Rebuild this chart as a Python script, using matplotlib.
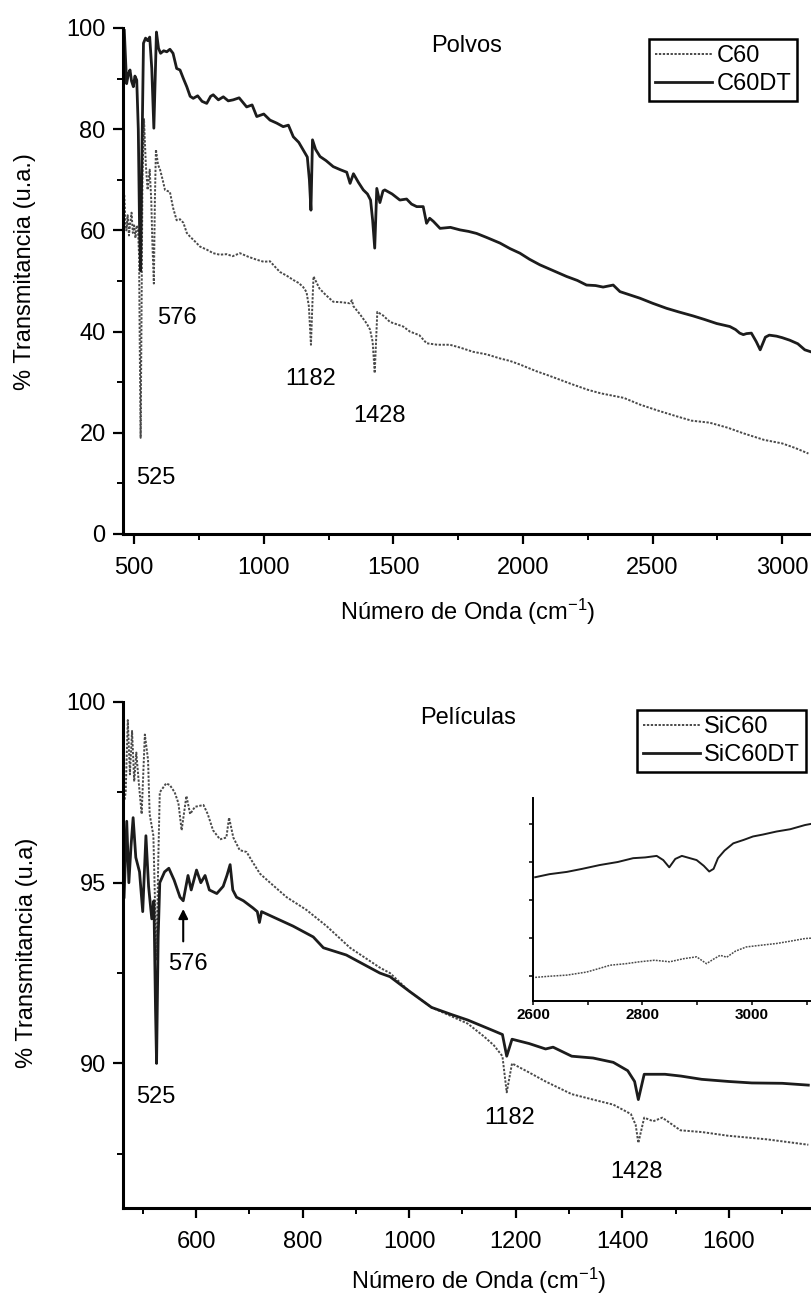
import numpy as np
import matplotlib.pyplot as plt
from matplotlib.ticker import MultipleLocator

plt.rcParams['font.family'] = ['Liberation Sans', 'DejaVu Sans']
plt.rcParams['mathtext.fontset'] = 'custom'
plt.rcParams['mathtext.rm'] = 'Liberation Sans'
plt.rcParams['mathtext.it'] = 'Liberation Sans:italic'

# ---- Polvos (powders) ----
c60dt_x = [462, 466, 471, 478, 484, 490, 497, 503, 510, 516, 521, 525, 530, 536, 544, 552, 560, 568,
           576, 580, 586, 594, 602, 614, 626, 638, 650, 664, 677, 690, 703, 716, 728, 745, 762, 780,
           795, 805, 825, 844, 863, 882, 905, 934, 955, 973, 1000, 1024, 1050, 1075, 1095, 1114, 1135,
           1152, 1168, 1176, 1182, 1188, 1200, 1217, 1240, 1268, 1295, 1320, 1333, 1346, 1365, 1384,
           1400, 1412, 1420, 1428, 1436, 1448, 1460, 1467, 1495, 1525, 1551, 1570, 1590, 1615, 1628,
           1640, 1654, 1680, 1720, 1757, 1790, 1821, 1860, 1911, 1950, 1988, 2025, 2065, 2110, 2168,
           2210, 2245, 2280, 2309, 2348, 2374, 2410, 2451, 2500, 2554, 2600, 2656, 2700, 2747, 2798,
           2820, 2836, 2850, 2862, 2881, 2900, 2915, 2935, 2950, 2978, 3000, 3029, 3060, 3087, 3111]
c60dt_y = [99.5, 95, 89, 91, 91.7, 89.5, 88.4, 90.5, 89.7, 80, 60, 52, 75, 97, 98, 97.5, 98.2, 92,
           80.2, 88, 99.2, 96, 95, 95.5, 95.3, 95.8, 95, 92, 91.7, 90, 88.4, 86.5, 86.1, 86.6, 85.5, 85.1,
           86.5, 86.8, 85.8, 86.4, 85.6, 85.8, 86.2, 84.4, 84.8, 82.5, 83, 81.8, 81.2, 80.5, 80.8, 78.5, 77.4,
           75.9, 74.5, 70, 64, 77.9, 76, 74.6, 73.8, 72.6, 72.0, 71.5, 69.3, 71.2, 69.5, 68,
           67.2, 66, 62, 56.5, 68.3, 65.5, 67.8, 68, 67.2, 66, 66.2, 65.2, 64.7, 64.7, 61.4,
           62.4, 61.8, 60.4, 60.6, 60.1, 59.8, 59.4, 58.6, 57.5, 56.4, 55.5, 54.3, 53.2, 52.2, 50.9,
           50.1, 49.2, 49.1, 48.8, 49.2, 47.9, 47.3, 46.6, 45.6, 44.6, 43.9, 43.1, 42.4, 41.6, 41,
           40.4, 39.7, 39.4, 39.6, 39.7, 38.0, 36.4, 38.9, 39.3, 39.1, 38.8, 38.3, 37.6, 36.4, 36.0]

c60_x = [462, 466, 470, 475, 480, 485, 490, 495, 500, 505, 510, 515, 519, 522, 525, 528, 532, 538,
         545, 552, 560, 566, 570, 576, 580, 584, 592, 600, 610, 619, 628, 638, 650, 664, 677, 690,
         703, 715, 735, 754, 780, 805, 830, 857, 880, 908, 940, 973, 1000, 1024, 1040, 1062, 1090,
         1114, 1135, 1152, 1165, 1174, 1182, 1188, 1192, 1215, 1240, 1268, 1300, 1332, 1340, 1346,
         1370, 1397, 1410, 1420, 1428, 1438, 1460, 1487, 1510, 1538, 1564, 1600, 1628, 1670, 1718,
         1760, 1808, 1860, 1911, 1950, 1988, 2050, 2100, 2189, 2250, 2300, 2389, 2450, 2520, 2590,
         2650, 2720, 2790, 2850, 2930, 3000, 3050, 3101]
c60_y = [67, 62, 60, 63, 59, 61.5, 63.5, 59.5, 61, 58.5, 61, 60, 55, 35, 19, 40, 70, 82,
         73, 68, 72, 66, 58, 49.5, 66, 76, 73, 72, 70, 68, 67.8, 67.6, 64.5, 62, 62.2, 61.5,
         59.5, 58.8, 57.8, 56.8, 56.2, 55.5, 55.2, 55.3, 54.9, 55.5, 54.8, 54.2, 53.8, 53.9, 53.0, 51.8, 51.0,
         50.2, 49.6, 48.8, 47.8, 45, 37.4, 46, 50.9, 48.5, 47.2, 45.9, 45.8, 45.6, 46.2, 45,
         43.5, 41.6, 40.4, 38, 31.8, 43.9, 43.2, 41.9, 41.5, 41, 40, 39.3, 37.7, 37.4, 37.4,
         36.8, 36, 35.5, 34.7, 34.2, 33.5, 32.2, 31.3, 29.6, 28.5, 27.8, 26.9, 25.6, 24.4, 23.3,
         22.4, 22.0, 21.0, 19.9, 18.6, 17.9, 17.0, 15.9]

# ---- Películas (films) ----
sic60dt_x = [465, 470, 474, 478, 482, 487, 494, 500, 506, 511, 517, 521, 524, 526, 529, 532, 541, 549,
             559, 570, 576, 585, 591, 601, 609, 617, 625, 639, 651, 658, 664, 669, 676, 689, 707, 715,
             719, 723, 745, 782, 820, 839, 882, 945, 964, 1000, 1042, 1080, 1110, 1159, 1175, 1183,
             1193, 1225, 1256, 1270, 1305, 1345, 1383, 1410, 1423, 1430, 1441, 1480, 1510, 1549, 1600,
             1643, 1700, 1749]
sic60dt_y = [94.6, 96.7, 95.0, 96.0, 96.8, 95.7, 95.3, 94.2, 96.3, 94.9, 94.0, 94.5, 91.5, 90.0, 93.5, 95.0, 95.3, 95.4,
             95.07, 94.6, 94.5, 95.2, 94.8, 95.35, 95.0, 95.2, 94.8, 94.7, 94.9, 95.2, 95.5, 94.8, 94.6, 94.5, 94.3, 94.2,
             93.9, 94.2, 94.05, 93.8, 93.5, 93.2, 93.0, 92.5, 92.4, 92.0, 91.55, 91.35, 91.2, 90.9, 90.8, 90.2,
             90.67, 90.55, 90.4, 90.45, 90.2, 90.15, 90.03, 89.8, 89.5, 89.0, 89.7, 89.7, 89.65, 89.56, 89.5,
             89.46, 89.45, 89.4]

sic60_x = [466, 468, 472, 476, 480, 484, 488, 493, 498, 504, 510, 513, 520, 523, 526, 529, 532, 544,
           551, 560, 567, 573, 582, 589, 598, 614, 622, 632, 645, 657, 662, 670, 682, 695, 705, 720,
           739, 770, 807, 845, 889, 945, 964, 1000, 1042, 1080, 1110, 1140, 1159, 1175, 1183, 1193,
           1225, 1256, 1305, 1345, 1383, 1416, 1425, 1430, 1441, 1458, 1475, 1509, 1550, 1598, 1671, 1749]
sic60_y = [97.3, 97.5, 99.5, 98.0, 99.2, 97.8, 98.6, 97.7, 96.9, 99.1, 98.4, 96.9, 96.3, 94.5, 92.85, 95.5, 97.5, 97.75,
           97.7, 97.5, 97.2, 96.45, 97.4, 96.9, 97.1, 97.15, 96.9, 96.45, 96.2, 96.25, 96.8, 96.25, 95.9, 95.85, 95.6, 95.25,
           95.0, 94.6, 94.25, 93.8, 93.2, 92.65, 92.5, 92.0, 91.55, 91.3, 91.1, 90.75, 90.5, 90.2, 89.2, 90.0,
           89.75, 89.5, 89.15, 89.0, 88.86, 88.6, 88.3, 87.8, 88.5, 88.4, 88.5, 88.15, 88.1, 88.0, 87.9, 87.75]

# ---- inset, 2600-3100 cm-1 (arbitrary units) ----
ins_dt_x = [2604, 2630, 2662, 2690, 2722, 2755, 2783, 2805, 2826, 2838, 2849, 2860, 2872, 2899, 2912,
            2922, 2930, 2938, 2950, 2966, 2985, 3002, 3020, 3045, 3070, 3097, 3108]
ins_dt_y = [2.6, 2.68, 2.74, 2.82, 2.92, 3.0, 3.1, 3.12, 3.16, 3.05, 2.86, 3.08, 3.16, 3.05, 2.9,
            2.75, 2.82, 3.1, 3.3, 3.49, 3.58, 3.67, 3.72, 3.8, 3.86, 3.97, 4.0]
ins_x = [2604, 2630, 2662, 2698, 2720, 2741, 2770, 2795, 2822, 2850, 2875, 2899, 2917, 2930,
         2942, 2954, 2970, 2990, 3020, 3045, 3070, 3097, 3108]
ins_y = [-0.03, 0.0, 0.03, 0.11, 0.2, 0.29, 0.33, 0.38, 0.42, 0.38, 0.46, 0.51, 0.33, 0.45,
         0.55, 0.5, 0.66, 0.77, 0.82, 0.86, 0.92, 0.99, 1.0]

top_peaks = ['525', '576', '1182', '1428']
top_peak_pos = [(584, 11.0), (664, 42.7), (1182, 30.7), (1447, 23.3)]
bot_peaks = ['525', '576', '1182', '1428']
bot_peak_pos = [(525, 89.07), (584, 92.76), (1188, 88.5), (1427, 87.0)]

W, H = 811, 1298
DOT = (0, (1.2, 0.8))
DARK = '#1c1c1c'
GREY = '#4a4a4a'
FS = 17


def style_axes(ax, lw=2.2, major_len=7.5, minor_len=4.5, xpad=9, ypad=5, labelsize=FS):
    for side in ('top', 'right'):
        ax.spines[side].set_visible(False)
    for side in ('left', 'bottom'):
        ax.spines[side].set_linewidth(lw)
    ax.tick_params(which='major', direction='out', length=major_len, width=1.6, labelsize=labelsize)
    ax.tick_params(which='minor', direction='out', length=minor_len, width=1.4)
    ax.tick_params(axis='x', which='major', pad=xpad)
    ax.tick_params(axis='y', which='major', pad=ypad)


def add_legend(ax, handles, labels, right_px, top_px):
    leg = ax.legend(handles, labels, loc='upper right',
                    bbox_to_anchor=(right_px / W, 1 - top_px / H), bbox_transform=fig.transFigure,
                    fontsize=FS, frameon=True, fancybox=False, edgecolor='k', framealpha=1,
                    handlelength=2.4, handletextpad=0.2, labelspacing=0.25, borderpad=0.25,
                    borderaxespad=0)
    leg.get_frame().set_linewidth(1.8)
    return leg


fig = plt.figure(figsize=(W / 100, H / 100), dpi=100)

# ---------------- top panel ----------------
ax1 = fig.add_axes([123 / W, 1 - 534 / H, 1 - 123 / W, 506 / H])
l1, = ax1.plot(c60_x, c60_y, color=GREY, lw=1.4, ls=DOT)
l2, = ax1.plot(c60dt_x, c60dt_y, color=DARK, lw=2.0)
ax1.set_xlim(457, 3111)
ax1.set_ylim(0, 100)
ax1.xaxis.set_major_locator(MultipleLocator(500))
ax1.xaxis.set_minor_locator(MultipleLocator(250))
ax1.yaxis.set_major_locator(MultipleLocator(20))
ax1.yaxis.set_minor_locator(MultipleLocator(10))
style_axes(ax1)
ax1.set_xlabel('Número de Onda (cm$^{-1}$)', fontsize=FS)
ax1.xaxis.label.set_va('center')
ax1.xaxis.set_label_coords(0.501, -0.154)
ax1.set_ylabel('% Transmitancia (u.a.)', fontsize=FS)
ax1.yaxis.label.set_va('center')
ax1.yaxis.set_label_coords(-0.142, 0.518)
ax1.text(0.50, 0.965, 'Polvos', transform=ax1.transAxes, ha='center', va='center', fontsize=FS)
for lab, (px, py) in zip(top_peaks, top_peak_pos):
    ax1.text(px, py, lab, ha='center', va='center', fontsize=FS)
add_legend(ax1, [l1, l2], ['C60', 'C60DT'], 797, 39)

# ---------------- bottom panel ----------------
ax2 = fig.add_axes([123 / W, 1 - 1208 / H, 1 - 123 / W, 506 / H])
m1, = ax2.plot(sic60_x, sic60_y, color=GREY, lw=1.4, ls=DOT)
m2, = ax2.plot(sic60dt_x, sic60dt_y, color=DARK, lw=2.0)
ax2.set_xlim(463, 1754)
ax2.set_ylim(86, 100)
ax2.xaxis.set_major_locator(MultipleLocator(200))
ax2.xaxis.set_minor_locator(MultipleLocator(100))
ax2.yaxis.set_major_locator(MultipleLocator(5))
ax2.yaxis.set_minor_locator(MultipleLocator(2.5))
style_axes(ax2)
ax2.set_xlabel('Número de Onda (cm$^{-1}$)', fontsize=FS)
ax2.xaxis.label.set_va('center')
ax2.xaxis.set_label_coords(0.517, -0.144)
ax2.set_ylabel('% Transmitancia (u.a)', fontsize=FS)
ax2.yaxis.label.set_va('center')
ax2.yaxis.set_label_coords(-0.14, 0.505)
ax2.text(0.501, 0.968, 'Películas', transform=ax2.transAxes, ha='center', va='center', fontsize=FS)
for lab, (px, py) in zip(bot_peaks, bot_peak_pos):
    ax2.text(px, py, lab, ha='center', va='center', fontsize=FS)
ax2.annotate('', xy=(576, 94.35), xytext=(576, 93.3),
             arrowprops=dict(arrowstyle='-|>', color='k', lw=1.5, mutation_scale=14))
add_legend(ax2, [m1, m2], ['SiC60', 'SiC60DT'], 806, 710)

# ---------------- inset ----------------
ax3 = fig.add_axes([533 / W, 1 - 1001 / H, 1 - 533 / W, 203 / H])
ax3.plot(ins_x, ins_y, color=GREY, lw=1.1, ls=DOT)
ax3.plot(ins_dt_x, ins_dt_y, color=DARK, lw=1.4)
ax3.set_xlim(2600, 3108)
ax3.set_ylim(-0.65, 4.68)
ax3.set_xticks([2600, 2800, 3000])
ax3.xaxis.set_minor_locator(MultipleLocator(100))
ax3.set_yticks([0, 1, 2, 3, 4])
ax3.set_yticklabels([])
style_axes(ax3, lw=1.4, major_len=3, minor_len=3, xpad=2, ypad=2, labelsize=11)
ax3.tick_params(width=1.1)
ax3.tick_params(which='minor', width=1.1)
for t in ax3.get_xticklabels():
    t.set_fontweight('bold')
ax3.patch.set_alpha(0)

fig.savefig('out.png', dpi=100)
